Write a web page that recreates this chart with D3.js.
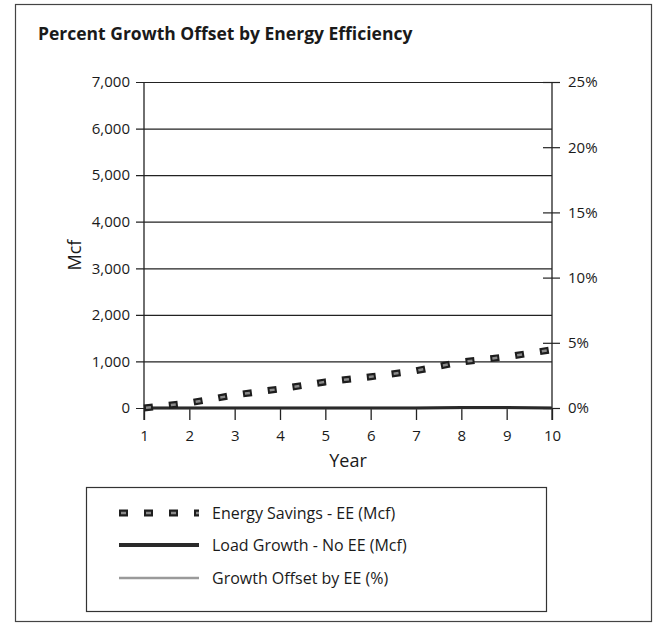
<!DOCTYPE html>
<html>
<head>
<meta charset="utf-8">
<script src="https://cdn.jsdelivr.net/npm/d3@7"></script>
<style>
  body { margin: 0; background: #fff; }
  svg text { font-family: "Open Sans", "DejaVu Sans", sans-serif; fill: #1a1a1a; }
</style>
</head>
<body>
<svg id="chart" width="656" height="624"></svg>
<script>
/* Percent growth offset chart */

const years = [1, 2, 3, 4, 5, 6, 7, 8, 9, 10];
const energySavings = [0, 110, 280, 410, 560, 670, 800, 990, 1100, 1250];   // Mcf
const loadGrowth = [0, 0, 0, 0, 0, 0, 0, 10, 10, 0];                      // Mcf
const growthOffset = [0, 0, 0, 0, 0, 0, 0, 0, 0, 0];                       // %
const leftTicks = [0, 1000, 2000, 3000, 4000, 5000, 6000, 7000];
const rightTicks = [0, 5, 10, 15, 20, 25];
const legendItems = ['Energy Savings - EE (Mcf)', 'Load Growth - No EE (Mcf)', 'Growth Offset by EE (%)'];

const svg = d3.select('#chart');
const plot = { left: 144, right: 552, top: 82, bottom: 408 };

const x = d3.scaleLinear().domain([1, 10]).range([plot.left, plot.right]);
const y = d3.scaleLinear().domain([0, 7000]).range([plot.bottom, plot.top]);
const y2 = d3.scaleLinear().domain([0, 25]).range([plot.bottom, plot.top]);

// outer frame
svg.append('rect')
  .attr('x', 15.5).attr('y', 4.5).attr('width', 636).attr('height', 617)
  .attr('fill', 'none').attr('stroke', '#444').attr('stroke-width', 1.2);

svg.append('text')
  .attr('x', 38).attr('y', 40)
  .attr('font-size', 17.5).attr('font-weight', 'bold')
  .text('Percent Growth Offset by Energy Efficiency');

// gridlines + left axis
const leftAxis = d3.axisLeft(y).tickValues(leftTicks)
  .tickSize(-(plot.right - plot.left)).tickSizeOuter(0).tickPadding(14)
  .tickFormat(d3.format(','));
const gl = svg.append('g').attr('transform', `translate(${plot.left},0)`).call(leftAxis);
gl.select('.domain').remove();
gl.selectAll('.tick line').attr('x1', -8).attr('stroke', '#222').attr('stroke-width', 1.2);
gl.selectAll('.tick text').attr('font-size', 15).attr('fill', '#1a1a1a');

svg.append('line')
  .attr('x1', plot.left).attr('x2', plot.left)
  .attr('y1', plot.top).attr('y2', plot.bottom + 12)
  .attr('stroke', '#222').attr('stroke-width', 1.3);

// right axis
const rightAxis = d3.axisRight(y2).tickValues(rightTicks)
  .tickSize(8).tickSizeOuter(0).tickPadding(8)
  .tickFormat(d => d + '%');
const gr = svg.append('g').attr('transform', `translate(${plot.right},0)`).call(rightAxis);
gr.select('.domain').remove();
gr.selectAll('.tick line').attr('x1', -9).attr('stroke', '#222').attr('stroke-width', 1.2);
gr.selectAll('.tick text').attr('font-size', 15).attr('fill', '#1a1a1a');
svg.append('line')
  .attr('x1', plot.right).attr('x2', plot.right)
  .attr('y1', plot.top).attr('y2', plot.bottom + 12)
  .attr('stroke', '#222').attr('stroke-width', 1.3);

// bottom axis
const bottomAxis = d3.axisBottom(x).tickValues(years).tickSize(12).tickPadding(10);
const gb = svg.append('g').attr('transform', `translate(0,${plot.bottom})`).call(bottomAxis);
gb.select('.domain').remove();
gb.selectAll('.tick line').attr('stroke', '#222').attr('stroke-width', 1.3);
gb.selectAll('.tick text').attr('font-size', 15).attr('fill', '#1a1a1a');

svg.append('text')
  .attr('x', (plot.left + plot.right) / 2).attr('y', 467)
  .attr('text-anchor', 'middle').attr('font-size', 18)
  .text('Year');

svg.append('text')
  .attr('transform', `translate(81,255) rotate(-90)`)
  .attr('text-anchor', 'middle').attr('font-size', 18)
  .text('Mcf');

// series
const lineMcf = d3.line().x((d, i) => x(years[i])).y(d => y(d));
const linePct = d3.line().x((d, i) => x(years[i])).y(d => y2(d));

svg.append('path').datum(growthOffset)
  .attr('d', linePct).attr('fill', 'none')
  .attr('stroke', '#9a9a9a').attr('stroke-width', 2.5);

svg.append('path').datum(loadGrowth)
  .attr('d', lineMcf).attr('fill', 'none')
  .attr('stroke', '#2a2a2a').attr('stroke-width', 3);

// dashed hatched line: dark dash with grey core
function dashedSeries(sel) {
  sel.append('path').attr('fill', 'none')
    .attr('stroke', '#1e1e1e').attr('stroke-width', 7)
    .attr('stroke-dasharray', '9 16');
  sel.append('path').attr('fill', 'none')
    .attr('stroke', '#8a8a8a').attr('stroke-width', 2.5)
    .attr('stroke-dasharray', '0 2 5 18');
}
const es = svg.append('g');
dashedSeries(es);
es.selectAll('path').attr('d', lineMcf(energySavings));

// legend
svg.append('rect')
  .attr('x', 86.5).attr('y', 487.5).attr('width', 460).attr('height', 124)
  .attr('fill', 'none').attr('stroke', '#333').attr('stroke-width', 1.2);

const ly = [513, 545, 578];
const lg = svg.append('g');
legendItems.forEach((name, i) => {
  const seg = `M119,${ly[i]}H199`;
  if (i === 0) {
    const g = lg.append('g');
    dashedSeries(g);
    g.selectAll('path').attr('d', seg);
  } else if (i === 1) {
    lg.append('path').attr('d', seg).attr('stroke', '#2a2a2a').attr('stroke-width', 4);
  } else {
    lg.append('path').attr('d', seg).attr('stroke', '#9a9a9a').attr('stroke-width', 2.5);
  }
  lg.append('text')
    .attr('x', 212).attr('y', ly[i]).attr('dy', '0.35em')
    .attr('font-size', 16)
    .text(name);
});
</script>
</body>
</html>
